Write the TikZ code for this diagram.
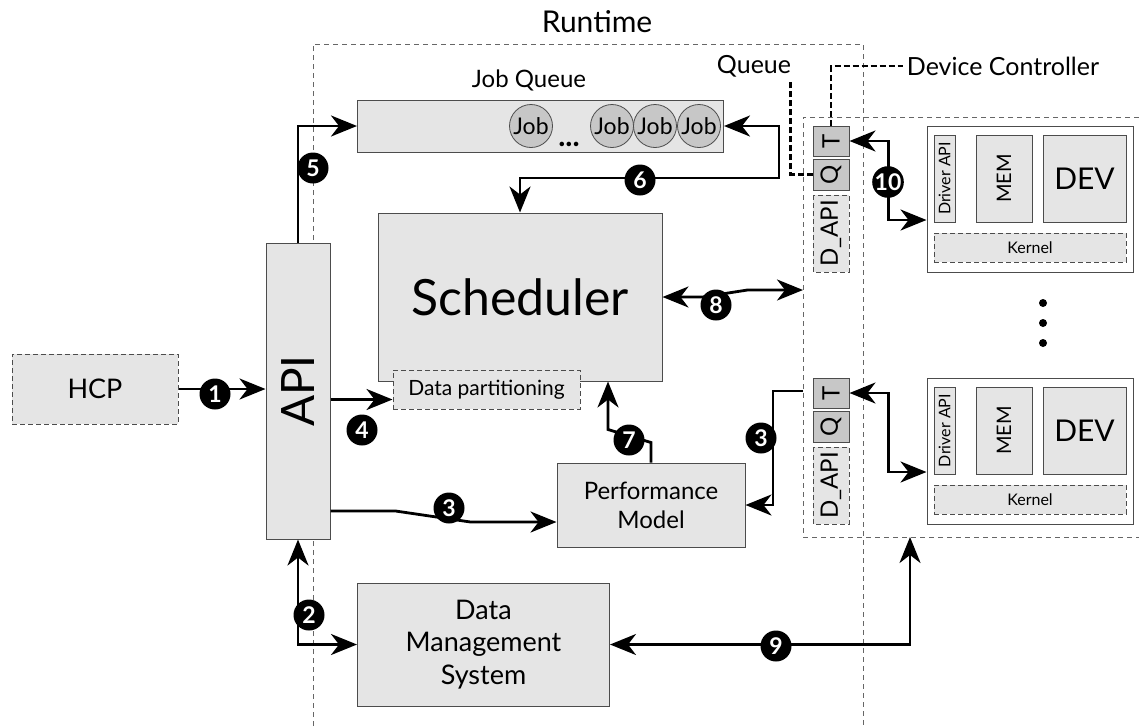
\documentclass[tikz,border=0pt]{standalone}
\usepackage{fontspec}
\setmainfont{Lato}
\usetikzlibrary{arrows.meta,positioning,calc}

\newcommand{\fsz}[1]{\fontsize{#1}{1.2\dimexpr #1pt\relax}\selectfont}

\tikzset{
  bigtip/.tip={Stealth[length=26pt,width=21pt,inset=8pt]},
  box/.style={draw=black!70, fill=black!10, line width=1pt, inner sep=0pt, align=center},
  dbox/.style={box, dash pattern=on 5pt off 3pt},
  dark/.style={box, fill=black!22},
  region/.style={draw=black!60, line width=0.9pt, dash pattern=on 5pt off 4pt},
  link/.style={line width=2.8pt, -bigtip},
  dlink/.style={line width=2.8pt, bigtip-bigtip},
  ctrl/.style={line width=2.4pt, dash pattern=on 6pt off 3pt},
  num/.style={circle, fill=black, text=white, inner sep=0pt, minimum size=31pt,
    font=\bfseries\fsz{23}},
  job/.style={circle, draw=black!70, fill=black!22, line width=0.8pt,
    minimum size=43pt, inner sep=0pt, font=\fsz{23}}
}

\begin{document}
\begin{tikzpicture}[x=1pt, y=-1pt]
  \useasboundingbox (0,0) rectangle (1139,726);

  % Regions
  \draw[region] (313,726) -- (313,44) -- (863,44) -- (863,726);
  \node[font=\fsz{30}] (rtlab) at (597,22) {Runtime};
  \draw[region] (1139,117) -- (803,117) -- (803,537) -- (1139,537);

  % Host side
  \node[dbox, minimum width=166pt, minimum height=70pt, font=\fsz{27}] (hcp) at (95,389) {HCP};
  \node[box, rotate=90, minimum width=296pt, minimum height=64pt, font=\fsz{46}] (api) at (298,391) {API};

  % Runtime blocks
  \node[box, minimum width=366pt, minimum height=52pt] (jq) at (540.5,126) {};
  \node[font=\fsz{24}] (jqlab) at (529,80) {Job Queue};
  \node[job] (j1) at (531,126) {Job};
  \node[anchor=base, font=\bfseries\fsz{30}] (jdots) at (569,146) {...};
  \foreach \x/\n in {612/j2, 655/j3, 699/j4}
    \node[job] (\n) at (\x,126) {Job};

  \node[box, minimum width=284pt, minimum height=168pt, font=\fsz{50}] (sched) at (520,297) {Scheduler};
  \node[dbox, minimum width=187pt, minimum height=39pt, font=\fsz{21}] (dp) at (486.5,389.5) {Data partitioning};
  \node[box, minimum width=188pt, minimum height=84pt, font=\fsz{24}] (pm) at (651,505) {Performance\\Model};
  \node[box, minimum width=252pt, minimum height=123pt, font=\fsz{27}] (dms) at (483.5,644.5) {Data\\Management\\System};

  % Device controllers and devices
  \foreach \i/\dy in {1/0, 2/252} {
    \begin{scope}[shift={(0,\dy)}]
      \node[dark, rotate=90, minimum width=30pt, minimum height=36pt, font=\fsz{24}] (t\i) at (831,141) {T};
      \node[dark, rotate=90, minimum width=31pt, minimum height=36pt, font=\fsz{24}] (q\i) at (831,174.5) {Q};
      \node[dbox, rotate=90, minimum width=77pt, minimum height=36pt, font=\fsz{24}] (dapi\i) at (831,233.5) {D\_API};
      \node[box, fill=white, minimum width=206pt, minimum height=146pt] (dev\i) at (1030,199) {};
      \node[box, rotate=90, minimum width=87pt, minimum height=21pt, font=\fsz{16}] (drv\i) at (944.5,178.5) {Driver API};
      \node[box, rotate=90, minimum width=87pt, minimum height=56pt, font=\fsz{20}] (mem\i) at (1004,178.5) {MEM};
      \node[box, minimum width=83pt, minimum height=87pt, font=\fsz{30}] (devc\i) at (1084.5,178.5) {DEV};
      \node[dbox, minimum width=192pt, minimum height=29pt, font=\fsz{16}] (ker\i) at (1030,247.5) {Kernel};
      % rotated nodes: south is the right side on the page
      \draw[dlink] (t\i.south) -- ++(39,0) |- ([yshift=-21pt]dev\i.west);
    \end{scope}
  }
  \foreach \y in {303,323,343}
    \fill (1043,\y) circle (4);

  % Controller labels
  \node[font=\fsz{25}] (qlab) at (754,66) {Queue};
  \node[font=\fsz{25}] (dclab) at (1003,66) {Device Controller};
  \draw[ctrl] (q1.north) -| ([xshift=-4pt,yshift=-2pt]qlab.south east);
  \draw[ctrl] (t1.east) |- (dclab.west);

  % Connectors
  \coordinate (c3) at (803,391);
  \coordinate (c8) at (803,290);
  \coordinate (c9) at (910,537);
  \draw[link] (hcp.east) -- (api.north |- hcp.east);
  \draw[dlink] (api.west) |- (dms.west);
  \draw[link] ([yshift=-120pt]api.south) -- ++(65,0) -- ++(75,11) -- ([yshift=-17pt]pm.west);
  \draw[link] (c3) -- ++(-30,0) |- (pm.east);
  \draw[link] (api.south |- dp.west) ++(0,10) -- ([yshift=-10pt]dp.west);
  \draw[link] (api.east) |- (jq.west);
  \draw[dlink] (jq.east) -- ++(55,0) -- ++(0,52) -| (sched.north);
  \draw[link] (pm.north) -- ++(0,-20) -- ++(-43,-13) coordinate (k7) -- (k7 |- sched.south);
  \draw[dlink] (sched.east) -- ++(40,0) -- ++(45,-7) -- (c8);
  \draw[dlink] (dms.east) -| (c9);

  % Step numbers
  \node[num] (n1) at (215,394) {1};
  \node[num] (n2) at (309,615) {2};
  \node[num] (n3a) at (449,508) {3};
  \node[num] (n3b) at (761,438) {3};
  \node[num] (n4) at (362,430) {4};
  \node[num] (n5) at (313,168) {5};
  \node[num] (n6) at (640,180) {6};
  \node[num] (n7) at (629,440) {7};
  \node[num] (n8) at (716,305) {8};
  \node[num] (n9) at (776,646) {9};
  \node[num] (n10) at (888,182) {10};
\end{tikzpicture}
\end{document}
